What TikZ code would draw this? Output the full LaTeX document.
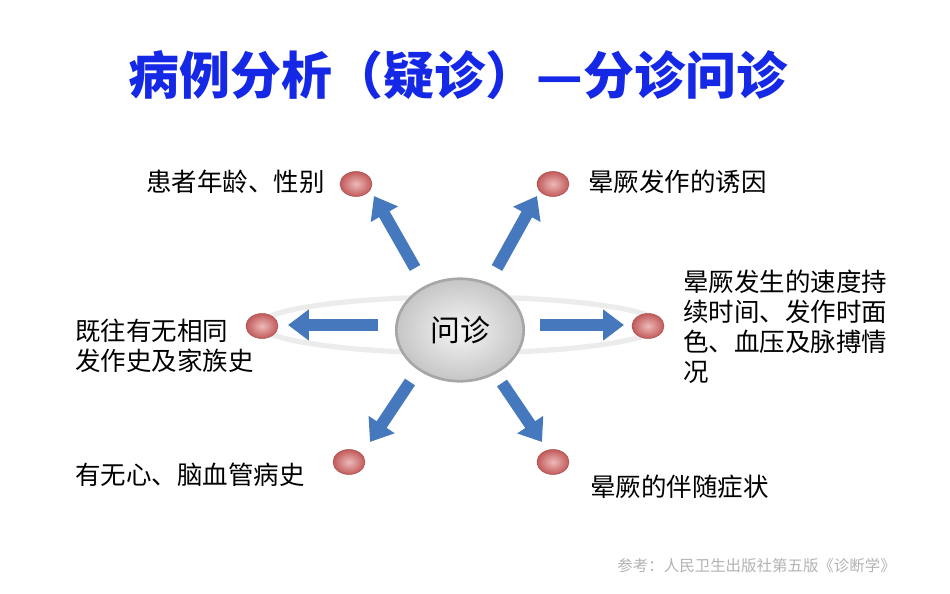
\documentclass[tikz,border=0pt]{standalone}
\usepackage{fontspec}
\newfontfamily\cjk{Noto Sans CJK SC}
\usetikzlibrary{arrows.meta,shadings,shapes.geometric}
\definecolor{titleblue}{RGB}{20,40,230}
\definecolor{arrowblue}{RGB}{70,120,190}
\definecolor{dotred}{RGB}{215,100,100}
\begin{document}
\begin{tikzpicture}[x=0.02cm,y=-0.02cm,
    dot/.style={ellipse,minimum width=0.64cm,minimum height=0.5cm,inner sep=0pt,
      inner color=dotred!45!white,outer color=dotred!90!black,draw=dotred!80!black,line width=0.3pt},
    link/.style={arrowblue,line width=0.24cm,-{Triangle[length=0.42cm,width=0.6cm]}},
    lbl/.style={font=\cjk\fontsize{14.5pt}{17pt}\selectfont,align=left,inner sep=0pt}]
  \useasboundingbox (0,0) rectangle (950,594);
  \node[font=\cjk\bfseries\fontsize{29pt}{32pt}\selectfont,text=titleblue] (title) at (458,75) {病例分析（疑诊）—分诊问诊};
  % ring and centre
  \draw[gray!15,line width=3pt] (460,325) ellipse (200 and 28);
  \node[ellipse,minimum width=2.55cm,minimum height=2.05cm,draw=gray!70,line width=1.5pt,
    inner color=gray!8,outer color=gray!45] (centre) at (460,330) {};
  \node[font=\cjk\fontsize{17pt}{20pt}\selectfont] at (centre) {问诊};
  % dots
  \node[dot] (d1) at (356,184) {};
  \node[dot] (d2) at (553,184) {};
  \node[dot] (d3) at (262,326) {};
  \node[dot] (d4) at (648,326) {};
  \node[dot] (d5) at (349,462) {};
  \node[dot] (d6) at (553,462) {};
  % arrows
  \coordinate (s1) at (415,268); \coordinate (e1) at (374,196);
  \coordinate (s2) at (497,268); \coordinate (e2) at (537,196);
  \coordinate (s3) at (378,325); \coordinate (e3) at (288,325);
  \coordinate (s4) at (540,325); \coordinate (e4) at (624,325);
  \coordinate (s5) at (410,382); \coordinate (e5) at (370,442);
  \coordinate (s6) at (502,383); \coordinate (e6) at (542,442);
  \foreach \i in {1,...,6}
    \draw[link] (s\i) -- (e\i);
  % labels
  \node[lbl,anchor=east] (t1) at (325,182) {患者年龄、性别};
  \node[lbl,anchor=west] (t2) at (588,182) {晕厥发作的诱因};
  \node[lbl,anchor=west] (t3) at (75,346) {既往有无相同\\发作史及家族史};
  \node[lbl,anchor=west] (t4) at (683,327) {晕厥发生的速度持\\续时间、发作时面\\色、血压及脉搏情\\况};
  \node[lbl,anchor=west] (t5) at (75,475) {有无心、脑血管病史};
  \node[lbl,anchor=west] (t6) at (590,487) {晕厥的伴随症状};
  \node[font=\cjk\fontsize{8.8pt}{10pt}\selectfont,text=gray!60,anchor=east] (ref) at (902,566) {参考：人民卫生出版社第五版《诊断学》};
\end{tikzpicture}
\end{document}
